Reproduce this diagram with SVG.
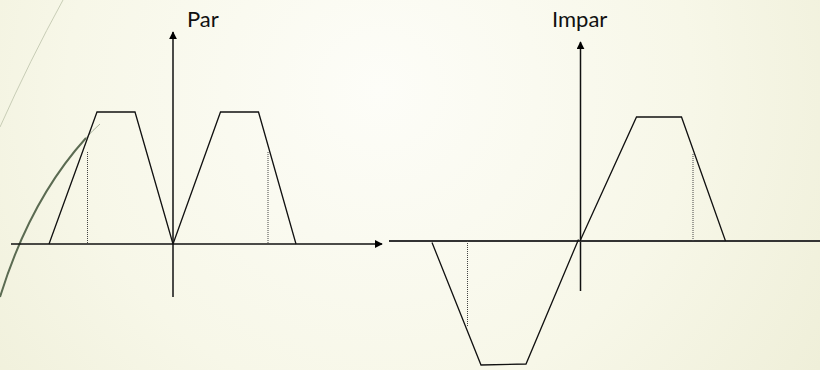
<svg xmlns="http://www.w3.org/2000/svg" width="820" height="370" viewBox="0 0 820 370">
<defs>
<radialGradient id="bg" cx="380" cy="90" r="520" gradientUnits="userSpaceOnUse">
<stop offset="0" stop-color="#fdfdf8"/>
<stop offset="0.6" stop-color="#f7f7e8"/>
<stop offset="1" stop-color="#efefd9"/>
</radialGradient>
<marker id="arr" viewBox="0 0 10 10" refX="9" refY="5" markerWidth="8" markerHeight="8" markerUnits="userSpaceOnUse" orient="auto">
<path d="M0,0 L10,5 L0,10 Z" fill="#000"/>
</marker>
<style>
.ax{stroke:#111;stroke-width:1.5;fill:none}
.axg{stroke:#333;stroke-width:2;fill:none}
.fn{stroke:#111;stroke-width:1.3;fill:none;stroke-linejoin:miter}
.dot{stroke:#444;stroke-width:1;stroke-dasharray:1 1;fill:none}
.lbl{font-family:Lato,"Liberation Sans",sans-serif;font-size:22px;fill:#111}
</style>
</defs>
<rect width="820" height="370" fill="url(#bg)"/>
<g id="decor">
<path d="M63,0 Q30,60 0,127" stroke="#c8cdb6" stroke-width="1" fill="none"/>
<path d="M0,297 Q30,200 86,138" stroke="#5b6b52" stroke-width="2" fill="none"/>
<path d="M86,138 Q93,130 100,124" stroke="#a9b39c" stroke-width="1" fill="none"/>
</g>
<g id="par-plot">
<text class="lbl" x="187" y="27">Par</text>
<line class="ax" x1="173" y1="297" x2="173" y2="32" marker-end="url(#arr)"/>
<line class="ax" x1="11" y1="244" x2="382" y2="244" marker-end="url(#arr)"/>
<polyline class="fn" points="49,244 97,112 135,112 173,244"/>
<polyline class="fn" points="173,244 220.5,112 258.5,112 296,244"/>
<line class="dot" x1="87.5" y1="152" x2="87.5" y2="244"/>
<line class="dot" x1="268" y1="152" x2="268" y2="244"/>
</g>
<g id="impar-plot">
<text class="lbl" x="552" y="27">Impar</text>
<line class="ax" x1="580.5" y1="291" x2="580.5" y2="42" marker-end="url(#arr)"/>
<line class="axg" x1="389" y1="241" x2="820" y2="241"/>
<polyline class="fn" points="580,241 636.5,117 681.5,117 725.5,241"/>
<polyline class="fn" points="432,242.5 481,365 526,364 578.5,239.5"/>
<line class="dot" x1="693" y1="154" x2="693" y2="241"/>
<line class="dot" x1="467.5" y1="241" x2="467.5" y2="327"/>
</g>
</svg>
